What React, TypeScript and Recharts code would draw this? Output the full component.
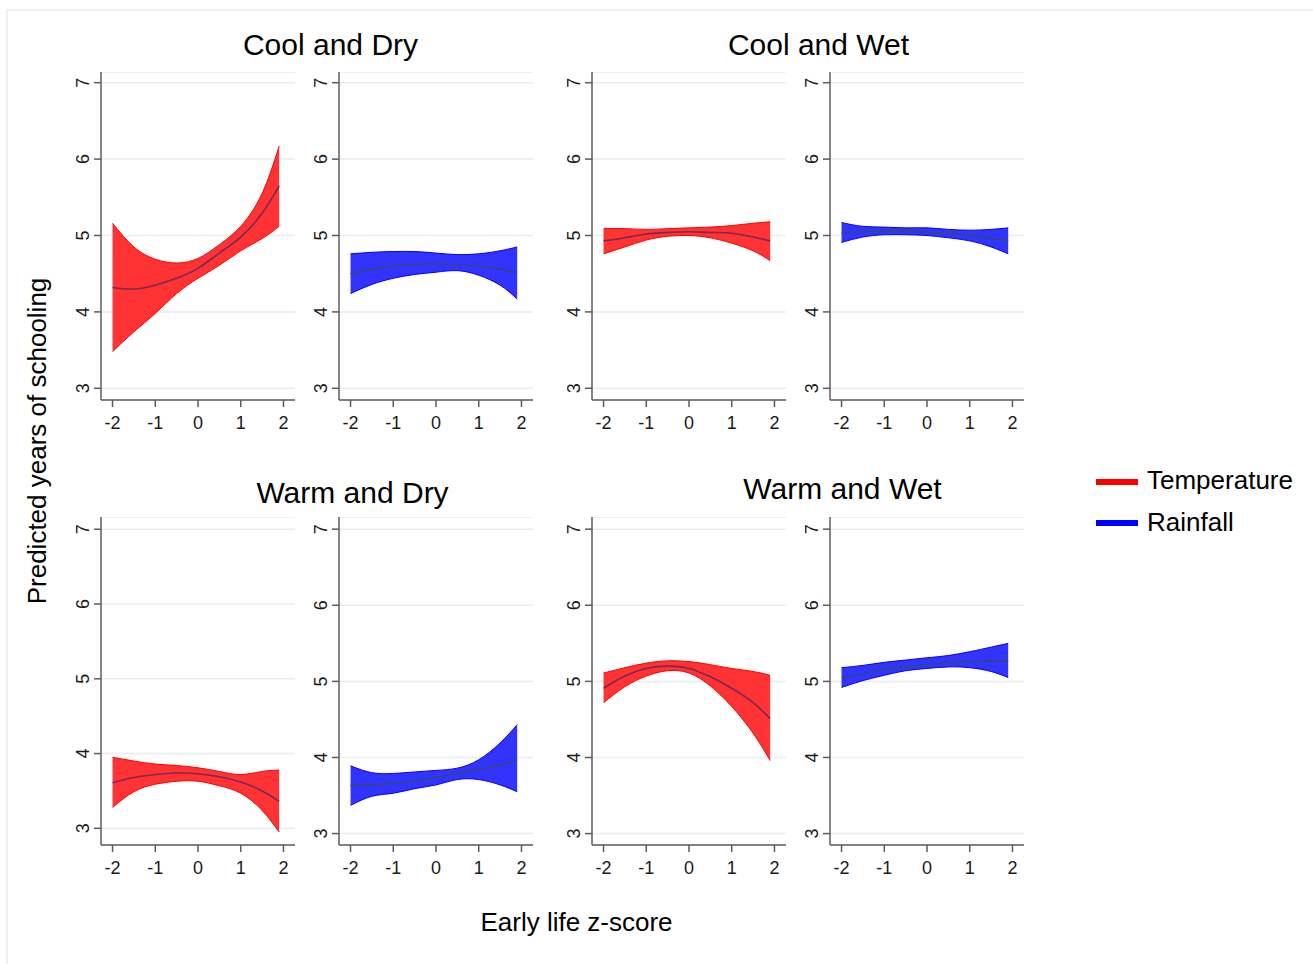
import { ComposedChart, Area, Line, XAxis, YAxis, CartesianGrid } from "recharts";

// x grid of the fitted curves (z-score)
const zScores = [-2, -1.5, -1, -0.5, 0, 0.5, 1, 1.5, 1.9];
const xTicks = [-2, -1, 0, 1, 2];
const yTicks = [3, 4, 5, 6, 7];

const coolDryTempLow = [3.48, 3.74, 3.98, 4.24, 4.44, 4.61, 4.8, 4.96, 5.12];
const coolDryTempHigh = [5.16, 4.85, 4.69, 4.64, 4.7, 4.88, 5.12, 5.55, 6.17];
const coolDryTempFit = [4.32, 4.3, 4.35, 4.44, 4.57, 4.77, 4.98, 5.29, 5.65];

const coolDryRainLow = [4.24, 4.36, 4.44, 4.49, 4.52, 4.54, 4.48, 4.35, 4.17];
const coolDryRainHigh = [4.76, 4.78, 4.79, 4.79, 4.77, 4.75, 4.76, 4.8, 4.85];
const coolDryRainFit = [4.5, 4.56, 4.6, 4.62, 4.63, 4.62, 4.6, 4.56, 4.52];

const coolWetTempLow = [4.76, 4.85, 4.94, 4.99, 5.0, 4.97, 4.9, 4.8, 4.67];
const coolWetTempHigh = [5.09, 5.09, 5.08, 5.09, 5.1, 5.11, 5.13, 5.16, 5.18];
const coolWetTempFit = [4.93, 4.97, 5.02, 5.04, 5.05, 5.04, 5.03, 4.98, 4.93];

const coolWetRainLow = [4.91, 4.98, 5.01, 5.01, 5.0, 4.97, 4.93, 4.85, 4.76];
const coolWetRainHigh = [5.17, 5.12, 5.11, 5.1, 5.1, 5.08, 5.07, 5.08, 5.1];
const coolWetRainFit = [5.03, 5.05, 5.06, 5.06, 5.04, 5.03, 5.0, 4.97, 4.93];

const warmDryTempLow = [3.28, 3.49, 3.59, 3.63, 3.63, 3.57, 3.47, 3.24, 2.95];
const warmDryTempHigh = [3.95, 3.9, 3.86, 3.84, 3.81, 3.76, 3.72, 3.76, 3.78];
const warmDryTempFit = [3.61, 3.68, 3.72, 3.74, 3.73, 3.69, 3.62, 3.5, 3.36];

const warmDryRainLow = [3.37, 3.49, 3.53, 3.59, 3.64, 3.71, 3.71, 3.64, 3.55];
const warmDryRainHigh = [3.89, 3.8, 3.79, 3.81, 3.83, 3.86, 3.97, 4.19, 4.43];
const warmDryRainFit = [3.63, 3.64, 3.66, 3.69, 3.74, 3.79, 3.84, 3.9, 3.97];

const warmWetTempLow = [4.72, 4.93, 5.07, 5.14, 5.11, 4.94, 4.67, 4.32, 3.96];
const warmWetTempHigh = [5.11, 5.18, 5.24, 5.27, 5.26, 5.22, 5.17, 5.13, 5.08];
const warmWetTempFit = [4.91, 5.07, 5.17, 5.2, 5.17, 5.06, 4.91, 4.72, 4.51];

const warmWetRainLow = [4.92, 5.01, 5.08, 5.14, 5.17, 5.19, 5.18, 5.13, 5.05];
const warmWetRainHigh = [5.18, 5.21, 5.25, 5.28, 5.31, 5.34, 5.39, 5.45, 5.5];
const warmWetRainFit = [5.05, 5.1, 5.16, 5.19, 5.22, 5.25, 5.26, 5.27, 5.27];

const FONT = "'Liberation Sans', Arial, sans-serif";
const AXIS_W = 40;
const PLOT_W = 194;
const PLOT_H = 328;
const X_AXIS_H = 40;

const STYLES = {
  temp: { fill: "#ff3333", stroke: "#ff0000", line: "#7a2856" },
  rain: { fill: "#3333ff", stroke: "#0000ff", line: "#2c4a7c" },
};

function XTick({ x, y, payload }: any) {
  return (
    <text x={x} y={y + 20} textAnchor="middle" fontSize={18} fontFamily={FONT} fill="#1a1a1a">
      {payload.value}
    </text>
  );
}

function YTick({ x, y, payload }: any) {
  const cx = x - 9;
  return (
    <text
      x={cx}
      y={y}
      dy="0.36em"
      textAnchor="middle"
      fontSize={18}
      fontFamily={FONT}
      fill="#1a1a1a"
      transform={`rotate(-90, ${cx}, ${y})`}
    >
      {payload.value}
    </text>
  );
}

interface PanelProps {
  left: number;
  top: number;
  domain: [number, number];
  low: number[];
  high: number[];
  fit: number[];
  kind: "temp" | "rain";
}

function Panel({ left, top, domain, low, high, fit, kind }: PanelProps) {
  const s = STYLES[kind];
  const data = zScores.map((z, i) => ({ z, band: [low[i], high[i]], fit: fit[i] }));
  return (
    <div style={{ position: "absolute", left: left - AXIS_W, top }}>
      <ComposedChart
        width={AXIS_W + PLOT_W}
        height={PLOT_H + X_AXIS_H}
        data={data}
        margin={{ top: 0, right: 0, bottom: 0, left: 0 }}
      >
        <CartesianGrid vertical={false} stroke="#e6eef0" strokeWidth={1.5} />
        <XAxis
          type="number"
          dataKey="z"
          domain={[-2.27, 2.27]}
          ticks={xTicks}
          allowDataOverflow
          height={X_AXIS_H}
          tickSize={7}
          stroke="#5c5c5c"
          strokeWidth={1.5}
          tick={<XTick />}
        />
        <YAxis
          type="number"
          domain={domain}
          ticks={yTicks}
          allowDataOverflow
          width={AXIS_W}
          tickSize={7}
          stroke="#5c5c5c"
          strokeWidth={1.5}
          tick={<YTick />}
        />
        <Area
          type="natural"
          dataKey="band"
          fill={s.fill}
          fillOpacity={1}
          stroke={s.stroke}
          strokeWidth={1}
          isAnimationActive={false}
        />
        <Line
          type="natural"
          dataKey="fit"
          stroke={s.line}
          strokeWidth={1.6}
          dot={false}
          isAnimationActive={false}
        />
      </ComposedChart>
    </div>
  );
}

const ROW1: [number, number] = [2.847, 7.14];
const ROW2A: [number, number] = [2.777, 7.164];
const ROW2B: [number, number] = [2.85, 7.16];

export default function App() {
  return (
    <div style={{ position: "absolute", left: 0, top: 0, width: 1313, height: 964, background: "#fff", overflow: "hidden" }}>
      <svg width={1313} height={964} style={{ position: "absolute", left: 0, top: 0 }}>
        <rect x={7} y={10} width={1320} height={980} fill="none" stroke="#e6eef0" strokeWidth={1.5} />
        <g fontFamily={FONT} fill="#000" textAnchor="middle" dominantBaseline="central">
          <text x={330.5} y={44} fontSize={30}>Cool and Dry</text>
          <text x={818.5} y={44} fontSize={30}>Cool and Wet</text>
          <text x={352.5} y={492} fontSize={30}>Warm and Dry</text>
          <text x={842.5} y={488} fontSize={30}>Warm and Wet</text>
          <text x={576.5} y={922} fontSize={26}>Early life z-score</text>
          <text x={37} y={441} fontSize={26} transform="rotate(-90, 37, 441)">
            Predicted years of schooling
          </text>
        </g>
        <rect x={1096} y={479} width={42} height={6} fill="#ff0000" />
        <rect x={1096} y={520} width={42} height={6} fill="#0000ff" />
        <g fontFamily={FONT} fill="#000" dominantBaseline="central" fontSize={26}>
          <text x={1147} y={480}>Temperature</text>
          <text x={1147} y={522}>Rainfall</text>
        </g>
      </svg>

      <Panel left={101} top={72} domain={ROW1} low={coolDryTempLow} high={coolDryTempHigh} fit={coolDryTempFit} kind="temp" />
      <Panel left={339} top={72} domain={ROW1} low={coolDryRainLow} high={coolDryRainHigh} fit={coolDryRainFit} kind="rain" />
      <Panel left={592} top={72} domain={ROW1} low={coolWetTempLow} high={coolWetTempHigh} fit={coolWetTempFit} kind="temp" />
      <Panel left={830} top={72} domain={ROW1} low={coolWetRainLow} high={coolWetRainHigh} fit={coolWetRainFit} kind="rain" />

      <Panel left={101} top={517} domain={ROW2A} low={warmDryTempLow} high={warmDryTempHigh} fit={warmDryTempFit} kind="temp" />
      <Panel left={339} top={517} domain={ROW2B} low={warmDryRainLow} high={warmDryRainHigh} fit={warmDryRainFit} kind="rain" />
      <Panel left={592} top={517} domain={ROW2B} low={warmWetTempLow} high={warmWetTempHigh} fit={warmWetTempFit} kind="temp" />
      <Panel left={830} top={517} domain={ROW2B} low={warmWetRainLow} high={warmWetRainHigh} fit={warmWetRainFit} kind="rain" />
    </div>
  );
}
